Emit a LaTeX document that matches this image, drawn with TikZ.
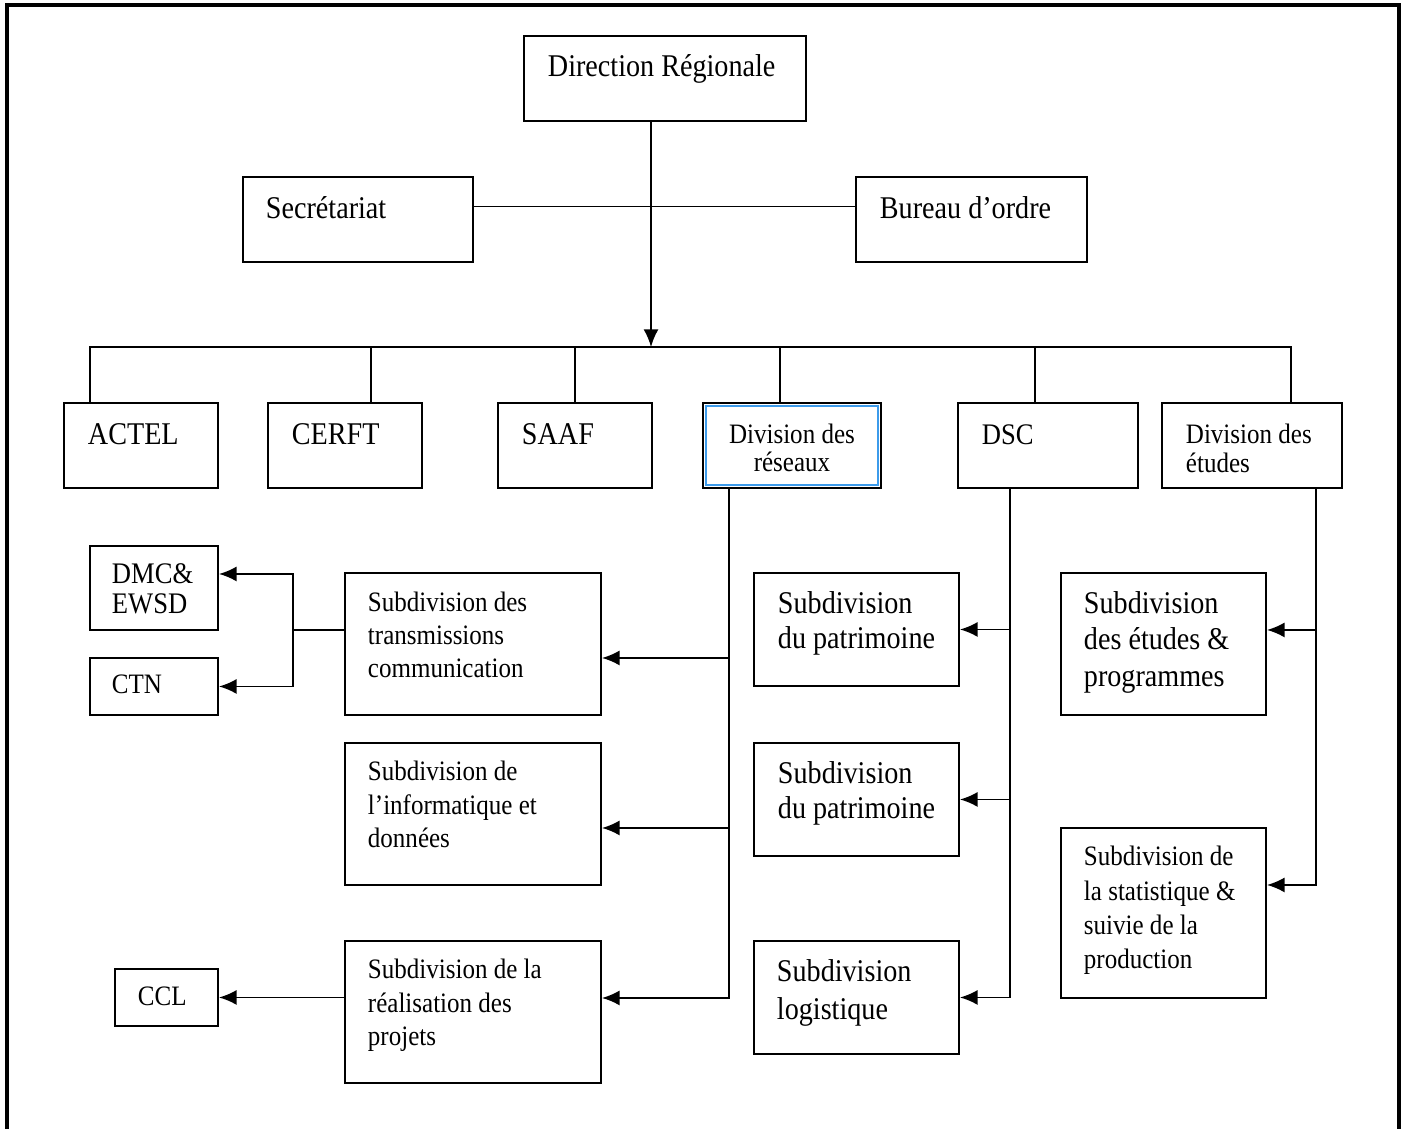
\documentclass[tikz,border=0pt]{standalone}
\usepackage{fontspec}
\setmainfont{Liberation Serif}[FakeStretch=0.89]
\usetikzlibrary{positioning,arrows.meta}
\definecolor{divblue}{HTML}{3C9BEB}

\begin{document}
\begin{tikzpicture}[x=0.02cm, y=-0.02cm,
  big/.style={font=\fontsize{18}{20.5}\selectfont},
  mid/.style={font=\fontsize{17}{17}\selectfont},
  small/.style={font=\fontsize{16}{19}\selectfont},
  org/.style n args={4}{draw, line width=1.1pt, anchor=north west, inner sep=0pt,
    align=left, text width=#1*0.02cm, text height=#3*0.02cm, text depth=(#2-#3)*0.02cm,
    execute at begin node={\spaceskip=0pt\xspaceskip=0pt\leftskip=#4}},
  link/.style={line width=1.1pt},
  flow/.style={link, -{Latex[length=10pt,width=8.5pt]}},
  back/.style={link, {Latex[length=10pt,width=8.5pt]}-},
  frame/.style={line width=2.3pt}]
\useasboundingbox (0,0) rectangle (1404,1129);
\draw[frame] (7,1129) -- (7,5) -- (1399,5) -- (1399,1129);
% top of the chart
\node[org={282}{85}{41}{0.48cm}, big] (dr) at (523,35) {Direction Régionale};
\node[org={230}{85}{42}{0.46cm}, big] (sec) at (242,176) {Secrétariat};
\node[org={231}{85}{42}{0.48cm}, big] (bur) at (855,176) {Bureau d’ordre};
% divisions
\node[org={154}{85}{42}{0.48cm}, big] (actel) at (63,402) {ACTEL};
\node[org={154}{85}{42}{0.48cm}, big] (cerft) at (267,402) {CERFT};
\node[org={154}{85}{42}{0.48cm}, big] (saaf) at (497,402) {SAAF};
\node[org={178}{85}{41}{0pt plus 1fil\rightskip=0pt plus 1fil\parfillskip=0pt}, font=\fontsize{16}{15.4}\selectfont] (res) at (702,402) {Division des\par réseaux};
\draw[link, divblue] ([shift={(4,4)}]res.north west) rectangle ([shift={(-4,-4)}]res.south east);
\node[org={180}{85}{42}{0.48cm}, mid] (dsc) at (957,402) {DSC};
\node[org={180}{85}{41}{0.48cm}, font=\fontsize{16}{16.5}\selectfont] (etu) at (1161,402) {Division des\\études};
% subdivisions
\node[org={128}{84}{38}{0.44cm}, font=\fontsize{17}{16.8}\selectfont] (dmc) at (89,545) {DMC\&\\EWSD};
\node[org={128}{57}{36}{0.44cm}, small] (ctn) at (89,657) {CTN};
\node[org={103}{57}{37}{0.46cm}, small] (ccl) at (114,968) {CCL};
\node[org={256}{142}{39}{0.46cm}, font=\fontsize{16}{18.7}\selectfont] (str) at (344,572) {Subdivision des\\transmissions\\communication};
\node[org={256}{142}{38}{0.46cm}, font=\fontsize{16}{18.9}\selectfont] (info) at (344,742) {Subdivision de\\l’informatique et\\données};
\node[org={256}{142}{38}{0.46cm}, font=\fontsize{16}{18.9}\selectfont] (real) at (344,940) {Subdivision de la\\réalisation des\\projets};
\node[org={205}{113}{41}{0.48cm}, font=\fontsize{18}{19.9}\selectfont] (pat1) at (753,572) {Subdivision\\du patrimoine};
\node[org={205}{113}{41}{0.48cm}, font=\fontsize{18}{19.9}\selectfont] (pat2) at (753,742) {Subdivision\\du patrimoine};
\node[org={205}{113}{41}{0.46cm}, font=\fontsize{18}{21.6}\selectfont] (logi) at (753,940) {Subdivision\\logistique};
\node[org={205}{142}{41}{0.46cm}, big] (sube) at (1060,572) {Subdivision\\des études \&\\programmes};
\node[org={205}{170}{38}{0.46cm}, font=\fontsize{16}{19.4}\selectfont] (stat) at (1060,827) {Subdivision de\\la statistique \&\\suivie de la\\production};
% connectors
\coordinate (hub) at (651,347);
\draw[flow] (dr.south -| hub) -- (hub);
\draw[link] ([shift={(0,-13)}]sec.east) -- ([shift={(0,-13)}]bur.west);
\foreach \n/\s in {actel/-51, cerft/26, saaf/0, res/-12, dsc/-13, etu/39}
  \draw[link] ([shift={(\s,0)}]\n.north) |- (hub);
\coordinate (rt) at ([shift={(-63,0)}]res.south);
\draw[back] ([shift={(0,14)}]str.east) -| (rt);
\draw[back] ([shift={(0,14)}]info.east) -| (rt);
\draw[back] ([shift={(0,-14)}]real.east) -| (rt);
\coordinate (dt) at ([shift={(-38,0)}]dsc.south);
\foreach \n in {pat1, pat2, logi}
  \draw[back] (\n.east) -| (dt);
\coordinate (et) at ([shift={(64,0)}]etu.south);
\draw[back] ([shift={(0,-14)}]sube.east) -| (et);
\draw[back] ([shift={(0,-28)}]stat.east) -| (et);
\coordinate (fork) at ([shift={(-51,-14)}]str.west);
\draw[link] ([shift={(0,-14)}]str.west) -- (fork);
\draw[flow] (fork) |- ([shift={(0,-14)}]dmc.east);
\draw[flow] (fork) |- (ctn.east);
\draw[flow] (real.west |- ccl.east) -- (ccl.east);
\end{tikzpicture}
\end{document}
